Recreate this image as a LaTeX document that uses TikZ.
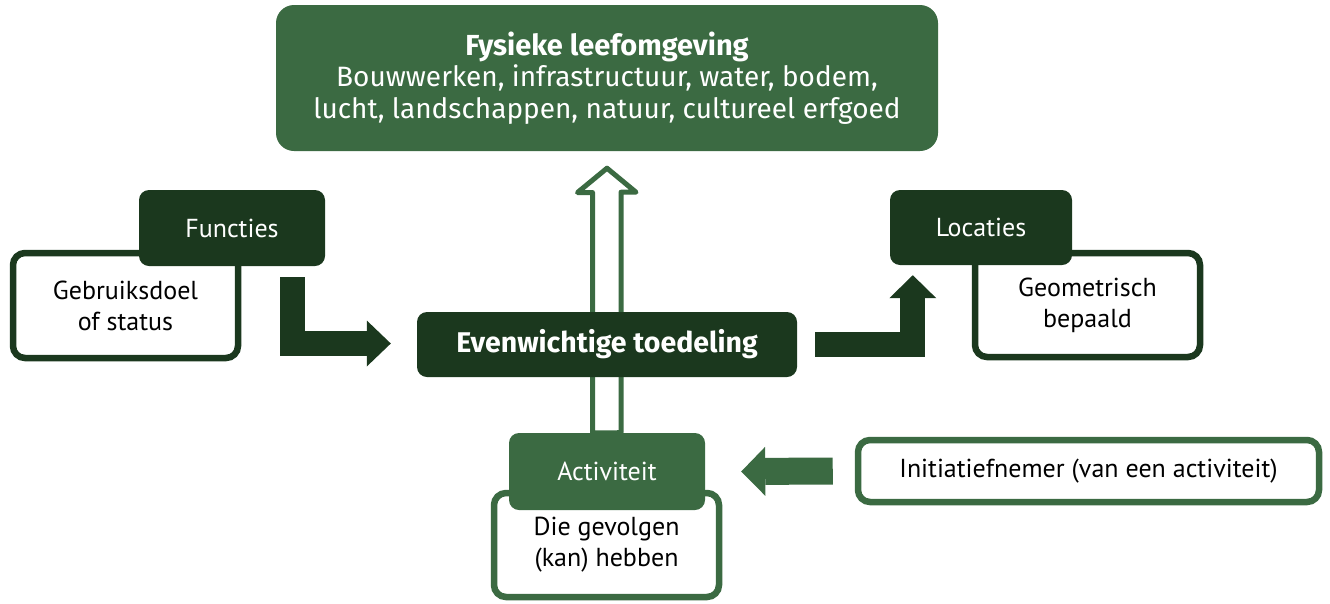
\documentclass[tikz,border=0pt]{standalone}
\usepackage{fontspec}
\setmainfont{PT Sans}
\newfontfamily\headfont{Fira Sans}
\usetikzlibrary{arrows.meta,positioning}

\definecolor{darkgreen}{RGB}{27,56,30}
\definecolor{midgreen}{RGB}{59,106,66}

\begin{document}
\begin{tikzpicture}[x=1pt,y=-1pt,
  every node/.style={font=\fontsize{26}{31}\selectfont,align=center},
  dark box/.style={rectangle,rounded corners=10pt,fill=darkgreen,text=white,inner sep=0pt},
  mid box/.style={dark box,fill=midgreen},
  frame box/.style={rectangle,rounded corners=12pt,draw=#1,line width=6.5pt,fill=white,inner sep=0pt},
  frame box/.default=darkgreen,
  block arrow/.style={line width=#1,line join=miter,line cap=butt},
  hollow arrow/.style={draw=midgreen,fill=white,line width=5pt,line join=round}]

  \useasboundingbox (0,0) rectangle (1330,603);

  % top box
  \node[mid box,rounded corners=18pt,minimum width=662pt,minimum height=146pt,
        font=\headfont\fontsize{28}{31.5}\selectfont] (leef) at (607,78)
    {{\fontsize{29}{31.5}\selectfont\bfseries Fysieke leefomgeving}\\Bouwwerken, infrastructuur, water, bodem,\\lucht, landschappen, natuur, cultureel erfgoed};

  % outlined boxes
  \node[frame box,minimum width=225pt,minimum height=105pt] (doel) at (125.5,305.5) {Gebruiksdoel\\of status};
  \node[frame box,minimum width=225pt,minimum height=104pt] (geo) at (1087.5,305) {Geometrisch\\bepaald};
  \node[frame box=midgreen,minimum width=225pt,minimum height=104pt] (gevolg) at (606.5,545) {Die gevolgen\\(kan) hebben};
  \node[frame box=midgreen,minimum width=461pt,minimum height=62pt] (init) at (1088.5,471) {Initiatiefnemer (van een activiteit)};

  % title boxes
  \node[dark box,minimum width=186pt,minimum height=76pt] (func) at (232,228) {Functies};
  \node[dark box,minimum width=182pt,minimum height=75pt] (loc) at (981,227.5) {Locaties};

  % hollow arrow up to the top box
  \coordinate (tip) at ([shift={(0,17)}]leef.south);
  \draw[hollow arrow] ([shift={(-14,0)}]gevolg.north |- 0,433) -- ++(0,-240.5) -- ++(-15,0)
    -- (tip) -- ++(29,24) -- ++(-15,0) -- ++(0,240.5) -- cycle;

  \node[dark box,minimum width=380pt,minimum height=65pt,
        font=\headfont\bfseries\fontsize{28.5}{30}\selectfont] (even) at (607,344.5) {Evenwichtige toedeling};
  \node[mid box,minimum width=196pt,minimum height=77pt] (act) at (607,471.5) {Activiteit};

  % block arrows
  \draw[block arrow=25pt,draw=darkgreen,-{Triangle[length=24pt,width=46pt,line width=0pt]}]
    ([shift={(-32.5,11)}]func.south east) |- ([shift={(-26,-1)}]even.west);
  \draw[block arrow=25pt,draw=darkgreen,-{Triangle[length=23pt,width=47pt,line width=0pt]}]
    ([shift={(18,0)}]even.east) -| ([shift={(23,10)}]loc.south west);
  \draw[block arrow=27pt,draw=midgreen,-{Triangle[length=24pt,width=49pt,line width=0pt]}]
    ([shift={(-22,0)}]init.west) -- ([shift={(36,0)}]act.east);
\end{tikzpicture}
\end{document}
